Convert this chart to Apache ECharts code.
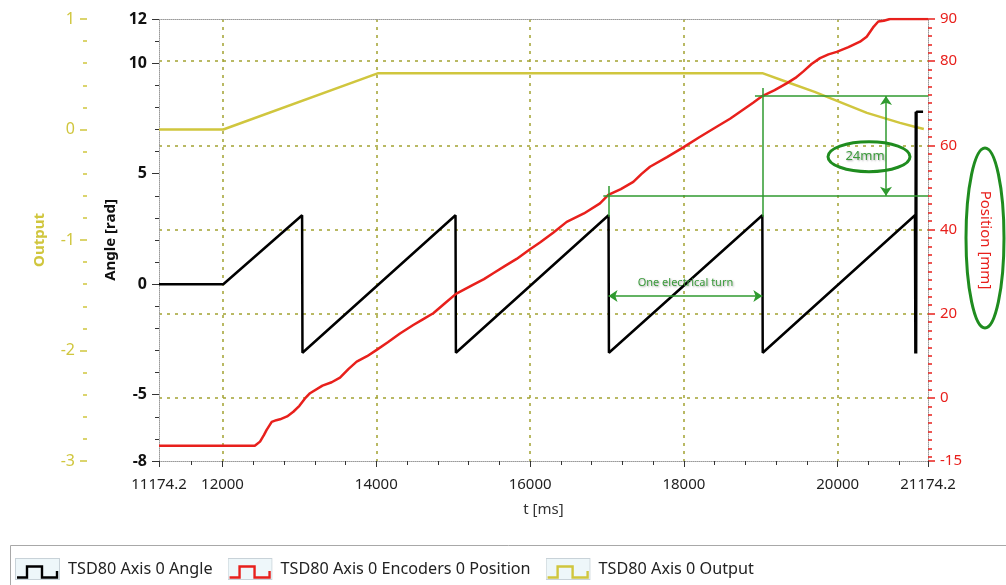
<!DOCTYPE html>
<html>
<head>
<meta charset="utf-8">
<script src="https://cdn.jsdelivr.net/npm/echarts@6/dist/echarts.min.js"></script>
<style>
html, body { margin: 0; padding: 0; background: #fff; }
#chart { width: 1006px; height: 585px; }
</style>
</head>
<body>
<div id="chart"></div>
<script>
// time axis [ms]
var tMin = 11174.2, tMax = 21174.2;
var tLabels = [11174.2, 12000, 14000, 16000, 18000, 20000, 21174.2];
var tGrid = [12000, 14000, 16000, 18000, 20000];
var tMinorStep = 400;

// y axes
var angleLabels = [-8, -5, 0, 5, 10, 12];
var outputLabels = [-3, -2, -1, 0, 1];
var positionLabels = [-15, 0, 20, 40, 60, 80, 90];
var positionGrid = [0, 20, 40, 60, 80];

// [t ms, angle rad]
var angleData = [
  [11174.2, 0], [12010, 0], [13035, 3.12], [13040, -3.1],
  [15030, 3.12], [15035, -3.1], [17020, 3.12], [17025, -3.1],
  [19020, 3.12], [19025, -3.1], [21005, 3.12], [21010, -3.14],
  [21015, 7.8], [21020, -3.14], [21025, 7.8], [21110, 7.8]
];
// [t ms, position mm]
var positionData = [
  [11174.2, -11.4], [12420, -11.4], [12488, -10.4], [12540, -8.8], [12574, -7.6],
  [12640, -5.7], [12700, -5.3], [12748, -5.1], [12840, -4.4], [12921, -3.3],
  [13000, -1.9], [13070, -0.2], [13138, 1.1], [13300, 2.9], [13420, 3.7],
  [13528, 4.8], [13640, 6.9], [13745, 8.6], [13880, 9.9], [14005, 11.4],
  [14150, 13.2], [14308, 15.3], [14481, 17.3], [14600, 18.6], [14741, 20.1],
  [14900, 22.6], [15036, 24.7], [15250, 26.8], [15400, 28.2], [15521, 29.6],
  [15680, 31.4], [15825, 33.0], [15999, 35.3], [16128, 36.9], [16300, 39.2],
  [16476, 41.8], [16700, 43.8], [16909, 46.2], [17017, 48.2], [17180, 49.6],
  [17342, 51.3], [17450, 53.2], [17559, 54.9], [17780, 57.2], [17992, 59.5],
  [18200, 61.9], [18426, 64.4], [18600, 66.3], [18750, 68.2], [18900, 70.1],
  [19019, 71.7], [19180, 73.1], [19336, 74.7], [19450, 76.0], [19550, 77.5],
  [19660, 79.3], [19770, 80.7], [19880, 81.6], [19987, 82.2], [20140, 83.3],
  [20290, 84.6], [20377, 85.8], [20460, 88.0], [20528, 89.4], [20600, 89.6],
  [20680, 90], [21174.2, 90]
];
// [t ms, output]
var outputData = [
  [11174.2, 0], [12010, 0], [14026, 0.51], [19020, 0.51], [19340, 0.43],
  [19700, 0.34], [19950, 0.27], [20380, 0.15], [20810, 0.06], [21000, 0.025],
  [21120, 0.005]
];

// annotations (t ms, position mm)
var turnStart = 17020, turnEnd = 19020;
var posLow = 48, posHigh = 71.7;
var arrowPos = 24.2;
var deltaT = 20628;
var deltaLabel = [20407, 57.3];

var green = '#2f9a2f';
var yellow = '#d0c63e';
var red = '#e8201c';

function steps(from, to, step) {
  var a = [];
  for (var v = from; v <= to + 1e-9; v += step) a.push(Math.round(v * 1000) / 1000);
  return a;
}

function iconUrl(color) {
  var svg = '<svg xmlns="http://www.w3.org/2000/svg" width="45" height="22">' +
    '<rect x="0.5" y="0.5" width="44" height="21" fill="#eef7fa" stroke="#c8d2d8"/>' +
    '<polyline points="2,19.5 12,19.5 12,8.5 27,8.5 27,19.5 42,19.5 42,13" fill="none" stroke="' +
    color + '" stroke-width="2.4"/></svg>';
  return 'image://data:image/svg+xml;charset=utf-8,' + encodeURIComponent(svg);
}

var names = ['TSD80 Axis 0 Angle', 'TSD80 Axis 0 Encoders 0 Position', 'TSD80 Axis 0 Output'];
var font = 'Noto Sans';
var dotted = { color: '#9a9a9a', type: 'dotted', width: 1 };
var gridDash = { color: '#a3a332', type: [3, 5], width: 1.5 };

var chart = echarts.init(document.getElementById('chart'));
chart.setOption({
  animation: false,
  textStyle: { fontFamily: font },
  grid: { left: 159, right: 78, top: 19, bottom: 124 },
  legend: {
    data: [
      { name: names[0], icon: iconUrl('#000') },
      { name: names[1], icon: iconUrl(red) },
      { name: names[2], icon: iconUrl(yellow) }
    ],
    left: 10, top: 553,
    itemWidth: 45, itemHeight: 22, itemGap: 15,
    selectedMode: false,
    textStyle: { fontSize: 16.2, color: '#222', padding: [0, 0, 0, 3] }
  },
  xAxis: [
    {
      type: 'value', min: tMin, max: tMax, position: 'bottom',
      name: 't [ms]', nameLocation: 'middle', nameGap: 41,
      nameTextStyle: { fontSize: 15, color: '#333' },
      axisLine: { onZero: false, lineStyle: dotted },
      axisTick: { customValues: tLabels, length: 6, lineStyle: { color: '#333' } },
      axisLabel: { customValues: tLabels, formatter: function (v) { return String(v); },
        margin: 16, fontSize: 15, color: '#222' },
      splitLine: { show: false }
    },
    {
      type: 'value', min: tMin, max: tMax, position: 'bottom',
      axisLine: { show: false, onZero: false },
      axisTick: { customValues: steps(11600, 20800, tMinorStep), length: 4, lineStyle: { color: '#333' } },
      axisLabel: { show: false },
      splitLine: { show: false }
    },
    {
      type: 'value', min: tMin, max: tMax, position: 'top',
      axisLine: { onZero: false, lineStyle: dotted },
      axisTick: { show: false, customValues: tGrid },
      axisLabel: { show: false },
      splitLine: { show: true, lineStyle: gridDash }
    }
  ],
  yAxis: [
    {
      type: 'value', min: -8, max: 12, position: 'left',
      name: 'Angle [rad]', nameLocation: 'middle', nameGap: 41,
      nameTextStyle: { fontSize: 15, fontWeight: 'bold', color: '#111' },
      axisLine: { show: true, onZero: false, lineStyle: dotted },
      axisTick: { customValues: angleLabels, length: 7, lineStyle: { color: '#333' } },
      axisLabel: { customValues: angleLabels, margin: 12, fontSize: 16, fontWeight: 'bold', color: '#111' },
      splitLine: { show: false }
    },
    {
      type: 'value', min: -8, max: 12, position: 'left',
      axisLine: { show: false, onZero: false },
      axisTick: { customValues: steps(-8, 12, 1), length: 4, lineStyle: { color: '#333' } },
      axisLabel: { show: false },
      splitLine: { show: false }
    },
    {
      type: 'value', min: -3, max: 1, position: 'left', offset: 72,
      name: 'Output', nameLocation: 'middle', nameGap: 40,
      nameTextStyle: { fontSize: 15, fontWeight: 'bold', color: yellow },
      axisLine: { show: false, onZero: false },
      axisTick: { show: true, customValues: outputLabels, length: 7, lineStyle: { color: yellow, width: 1.5 } },
      axisLabel: { customValues: outputLabels, margin: 12, fontSize: 16, color: yellow },
      splitLine: { show: false }
    },
    {
      type: 'value', min: -3, max: 1, position: 'left', offset: 72,
      axisLine: { show: false, onZero: false },
      axisTick: { show: true, customValues: steps(-3, 1, 0.2), length: 4, lineStyle: { color: yellow, width: 1.5 } },
      axisLabel: { show: false },
      splitLine: { show: false }
    },
    {
      type: 'value', min: -15, max: 90, position: 'right',
      name: 'Position [mm]', nameLocation: 'middle', nameGap: 50, nameRotate: -90,
      nameTextStyle: { fontSize: 15, color: red },
      axisLine: { show: true, onZero: false, lineStyle: dotted },
      axisTick: { customValues: positionLabels, length: 7, lineStyle: { color: red, width: 1.5 } },
      axisLabel: { customValues: positionLabels, margin: 12, fontSize: 15, color: red },
      splitLine: { show: false }
    },
    {
      type: 'value', min: -15, max: 90, position: 'right',
      axisLine: { show: false, onZero: false },
      axisTick: { customValues: steps(-14, 88, 2), length: 4, lineStyle: { color: red, width: 1.5 } },
      axisLabel: { show: false },
      splitLine: { show: false }
    },
    {
      type: 'value', min: -15, max: 90, position: 'right',
      axisLine: { show: false, onZero: false },
      axisTick: { show: false, customValues: positionGrid },
      axisLabel: { show: false },
      splitLine: { show: true, lineStyle: gridDash }
    }
  ],
  series: [
    {
      name: names[0], type: 'line', xAxisIndex: 0, yAxisIndex: 0,
      data: angleData, showSymbol: false, z: 3,
      lineStyle: { color: '#000', width: 2.5 }, itemStyle: { color: '#000' }
    },
    {
      name: names[1], type: 'line', xAxisIndex: 0, yAxisIndex: 4,
      data: positionData, showSymbol: false, z: 4,
      lineStyle: { color: red, width: 2.5 }, itemStyle: { color: red },
      markLine: {
        silent: true, symbol: 'none', symbolSize: 9, z: 10,
        lineStyle: { color: green, width: 1.5, type: 'solid' },
        label: { show: false },
        emphasis: { disabled: true },
        data: [
          [{ coord: [16952, posLow] }, { coord: [tMax, posLow] }],
          [{ coord: [18924, posHigh] }, { coord: [tMax, posHigh] }],
          [{ coord: [turnStart, 50.3] }, { coord: [turnStart, 43] }],
          [{ coord: [turnEnd, 73.6] }, { coord: [turnEnd, 43] }],
          [
            { coord: [turnStart, arrowPos], symbol: 'arrow',
              label: { show: true, formatter: 'One electrical turn', position: 'insideMiddleTop', distance: 8,
                color: '#3a9a3a', fontSize: 11, textShadowColor: 'rgba(0,0,0,0.35)', textShadowBlur: 2,
                textShadowOffsetX: 1, textShadowOffsetY: 1 } },
            { coord: [turnEnd, arrowPos], symbol: 'arrow' }
          ],
          [{ coord: [deltaT, posHigh], symbol: 'arrow' }, { coord: [deltaT, posLow], symbol: 'arrow' }]
        ]
      }
    },
    {
      name: names[2], type: 'line', xAxisIndex: 0, yAxisIndex: 2,
      data: outputData, showSymbol: false, z: 2,
      lineStyle: { color: yellow, width: 2.5 }, itemStyle: { color: yellow }
    }
  ]
});

var c = chart.convertToPixel({ xAxisIndex: 0, yAxisIndex: 4 }, deltaLabel);
chart.setOption({
  graphic: [
    { type: 'rect', silent: true, shape: { x: 10.5, y: 545.5, width: 1000, height: 50 },
      style: { fill: 'none', stroke: '#a8a8a8', lineWidth: 1 } },
    { type: 'ellipse', silent: true, z: 20, shape: { cx: c[0], cy: c[1], rx: 41, ry: 15 },
      style: { fill: 'none', stroke: '#1f8c1f', lineWidth: 3 } },
    { type: 'text', silent: true, z: 21, x: c[0] - 4, y: c[1],
      style: { text: '24mm', fill: '#3a9a3a', fontSize: 13, fontFamily: font, align: 'center', verticalAlign: 'middle',
        textShadowColor: 'rgba(0,0,0,0.35)', textShadowBlur: 2, textShadowOffsetX: 1, textShadowOffsetY: 1 } },
    { type: 'ellipse', silent: true, z: 20, shape: { cx: 985, cy: 238, rx: 19, ry: 90 },
      style: { fill: 'none', stroke: '#1f8c1f', lineWidth: 3 } }
  ]
});
</script>
</body>
</html>
